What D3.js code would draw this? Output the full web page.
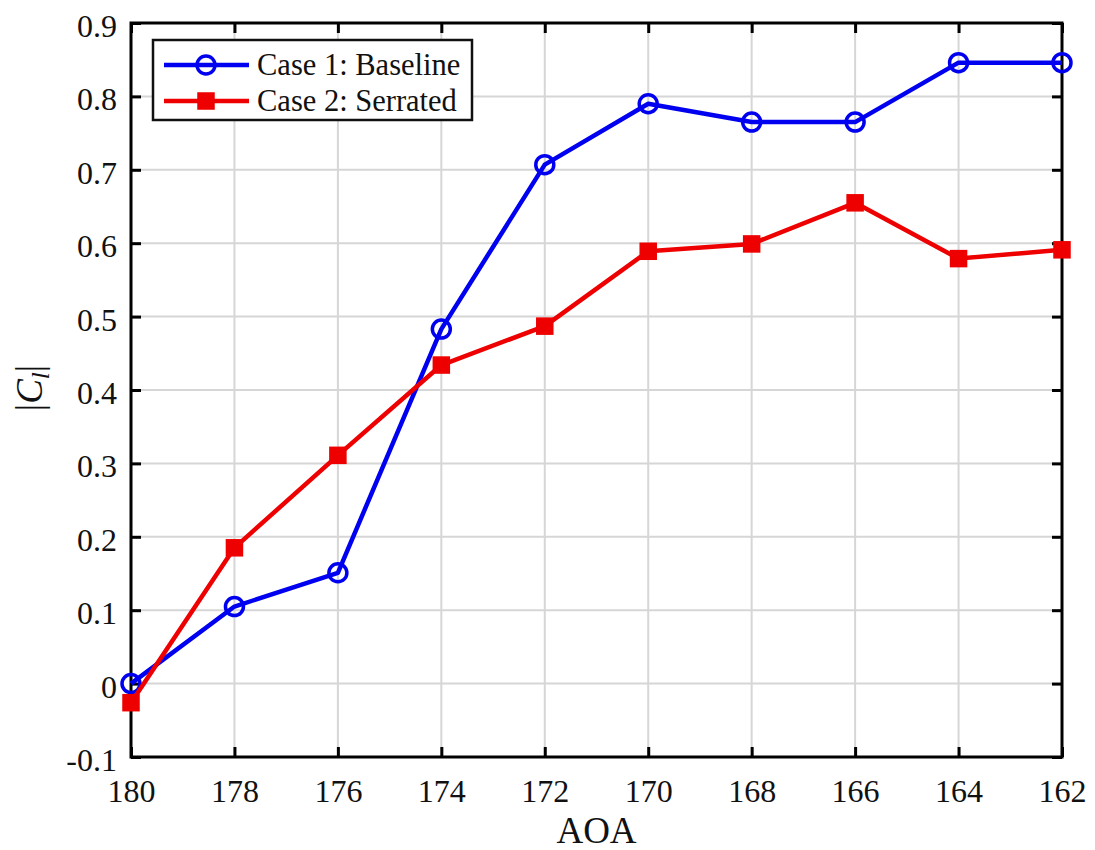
<!DOCTYPE html>
<html>
<head>
<meta charset="utf-8">
<script src="https://cdn.jsdelivr.net/npm/d3@7"></script>
<style>
  html, body { margin: 0; padding: 0; background: #fff; }
  svg { display: block; font-family: "Liberation Serif", "Times New Roman", serif; }
  svg text { font-family: "Liberation Serif", "Times New Roman", serif; }
</style>
</head>
<body>
<svg id="chart" width="1095" height="850"></svg>
<script>
// Angle of attack (degrees), plotted in descending order
const aoa = [180, 178, 176, 174, 172, 170, 168, 166, 164, 162];
// |Cl| for each configuration
const baseline = [0.000, 0.105, 0.151, 0.483, 0.707, 0.790, 0.765, 0.765, 0.846, 0.846];
const serrated = [-0.026, 0.185, 0.311, 0.434, 0.487, 0.589, 0.599, 0.655, 0.579, 0.591];
const seriesNames = ["Case 1: Baseline", "Case 2: Serrated"];
const yTicks = [-0.1, 0, 0.1, 0.2, 0.3, 0.4, 0.5, 0.6, 0.7, 0.8, 0.9];
const yTickLabels = ["-0.1", "0", "0.1", "0.2", "0.3", "0.4", "0.5", "0.6", "0.7", "0.8", "0.9"];

const svg = d3.select("#chart");
const plotL = 131, plotR = 1062, plotT = 23, plotB = 757;

const x = d3.scaleLinear().domain([180, 162]).range([plotL, plotR]);
const y = d3.scaleLinear().domain([-0.1, 0.9]).range([plotB, plotT]);

// grid lines
const grid = svg.append("g").attr("stroke", "#d6d6d6").attr("stroke-width", 2);
grid.selectAll(".gx").data(aoa).join("line")
  .attr("x1", d => x(d)).attr("x2", d => x(d))
  .attr("y1", plotT).attr("y2", plotB);
grid.selectAll(".gy").data(yTicks).join("line")
  .attr("x1", plotL).attr("x2", plotR)
  .attr("y1", d => y(d)).attr("y2", d => y(d));

// axes with inward ticks on all four sides
const tickLen = 10;
const tickFont = 32;
const axStyle = g => {
  g.attr("font-family", null).attr("font-size", tickFont);
  g.select(".domain").remove();
  g.selectAll(".tick line").attr("stroke", "#000").attr("stroke-width", 3);
  g.selectAll(".tick text").attr("fill", "#111");
};
svg.append("g").attr("transform", `translate(0,${plotB})`)
  .call(d3.axisBottom(x).tickValues(aoa).tickFormat(d3.format("d")).tickSizeInner(-tickLen).tickSizeOuter(0).tickPadding(22))
  .call(axStyle);
svg.append("g").attr("transform", `translate(0,${plotT})`)
  .call(d3.axisTop(x).tickValues(aoa).tickFormat("").tickSizeInner(-tickLen).tickSizeOuter(0))
  .call(axStyle);
svg.append("g").attr("transform", `translate(${plotL},0)`)
  .call(d3.axisLeft(y).tickValues(yTicks).tickFormat((d, i) => yTickLabels[i]).tickSizeInner(-tickLen).tickSizeOuter(0).tickPadding(14))
  .call(axStyle)
  .call(g => g.selectAll(".tick text").attr("dy", "0.42em"));
svg.append("g").attr("transform", `translate(${plotR},0)`)
  .call(d3.axisRight(y).tickValues(yTicks).tickFormat("").tickSizeInner(-tickLen).tickSizeOuter(0))
  .call(axStyle);

// plot frame
svg.append("rect")
  .attr("x", plotL).attr("y", plotT).attr("width", plotR - plotL).attr("height", plotB - plotT)
  .attr("fill", "none").attr("stroke", "#000").attr("stroke-width", 3);

// data lines
const line = d3.line().x((d, i) => x(aoa[i])).y(d => y(d));
const blue = "#0000f0", red = "#ee0000";
const circR = 9, sq = 16;

svg.append("path").datum(baseline)
  .attr("d", line).attr("fill", "none").attr("stroke", blue).attr("stroke-width", 4.5)
  .attr("stroke-linejoin", "round");
svg.append("g").selectAll("circle").data(baseline).join("circle")
  .attr("cx", (d, i) => x(aoa[i])).attr("cy", d => y(d)).attr("r", circR)
  .attr("fill", "none").attr("stroke", blue).attr("stroke-width", 3.5);

svg.append("path").datum(serrated)
  .attr("d", line).attr("fill", "none").attr("stroke", red).attr("stroke-width", 4.5)
  .attr("stroke-linejoin", "round");
svg.append("g").selectAll("rect").data(serrated).join("rect")
  .attr("x", (d, i) => x(aoa[i]) - sq / 2).attr("y", d => y(d) - sq / 2)
  .attr("width", sq).attr("height", sq)
  .attr("fill", red).attr("stroke", red).attr("stroke-width", 1.5);

// legend
const lg = svg.append("g");
lg.append("rect").attr("x", 153).attr("y", 40).attr("width", 319).attr("height", 80)
  .attr("fill", "#fff").attr("stroke", "#111").attr("stroke-width", 2.5);
const rows = [
  { name: seriesNames[0], color: blue, cy: 65, marker: "circle" },
  { name: seriesNames[1], color: red, cy: 101, marker: "square" }
];
rows.forEach(r => {
  lg.append("line").attr("x1", 164).attr("x2", 249).attr("y1", r.cy).attr("y2", r.cy)
    .attr("stroke", r.color).attr("stroke-width", 4.5);
  if (r.marker === "circle") {
    lg.append("circle").attr("cx", 206).attr("cy", r.cy).attr("r", circR)
      .attr("fill", "none").attr("stroke", r.color).attr("stroke-width", 3.5);
  } else {
    lg.append("rect").attr("x", 206 - sq / 2).attr("y", r.cy - sq / 2).attr("width", sq).attr("height", sq)
      .attr("fill", r.color).attr("stroke", r.color).attr("stroke-width", 1.5);
  }
  lg.append("text").attr("x", 257).attr("y", r.cy + 10).attr("font-size", 30.5).attr("fill", "#111")
    .text(r.name);
});

// axis titles
svg.append("text").attr("x", (plotL + plotR) / 2).attr("y", 843)
  .attr("text-anchor", "middle").attr("font-size", 37).attr("fill", "#111").text("AOA");

const yl = svg.append("text").attr("transform", "translate(42,388) rotate(-90)")
  .attr("text-anchor", "middle").attr("font-size", 37).attr("fill", "#111");
yl.append("tspan").text("|");
yl.append("tspan").attr("font-style", "italic").text("C");
yl.append("tspan").attr("font-style", "italic").attr("font-size", 25).attr("dy", 7).text("l");
yl.append("tspan").attr("dy", -7).text("|");
</script>
</body>
</html>
